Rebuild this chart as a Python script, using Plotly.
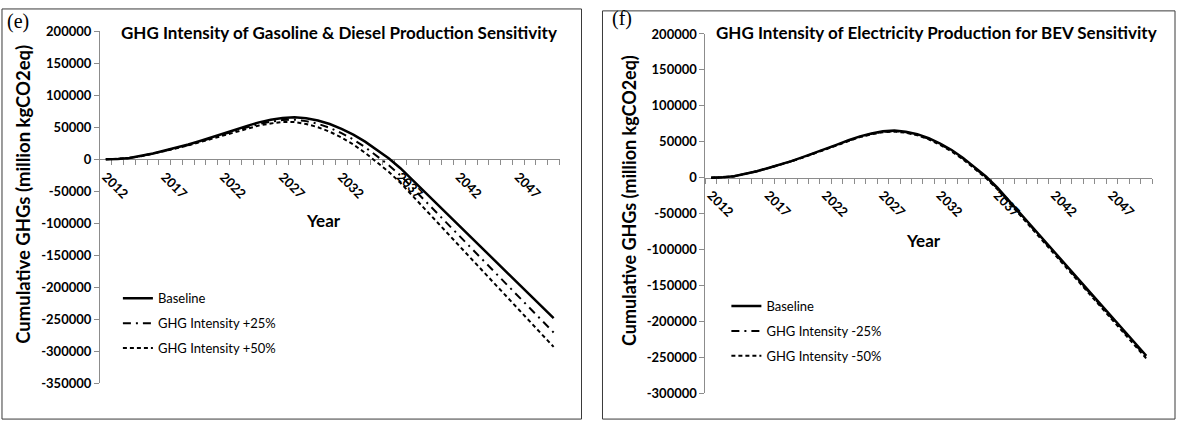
import plotly.graph_objects as go

# ---------------------------------------------------------------- data
years = list(range(2012, 2051))

baseline = [0, 400, 2000, 5000, 9000, 13500, 18000, 23000, 28500, 34000,
            40000, 46000, 52000, 57500, 61500, 64500, 65500, 64000, 60500, 55000,
            47500, 38500, 27500, 15000, 1500, -14000, -32000, -50000, -68000, -86000,
            -104000, -122000, -140000, -158000, -176000, -194000, -212000, -230000, -248000]

fuel_plus25 = [0, 375, 1925, 4850, 8750, 13100, 17500, 22300, 27600, 32850,
               38600, 44350, 50000, 55100, 58700, 61250, 61750, 59500, 55300, 49000,
               40700, 30800, 18800, 5300, -9000, -25400, -44200, -63100, -82000, -100800,
               -119700, -138600, -157500, -176300, -195200, -214000, -232800, -251600, -270500]

fuel_plus50 = [0, 350, 1850, 4700, 8500, 12750, 17000, 21600, 26700, 31700,
               37200, 42700, 48000, 52700, 55900, 58000, 58000, 55000, 50000, 43000,
               34000, 23000, 10000, -4500, -19500, -36800, -56500, -76200, -96000, -115700,
               -135500, -155200, -175000, -194700, -214400, -234000, -253700, -273300, -293000]

elec_minus25 = [0, 400, 2000, 4950, 8900, 13350, 17800, 22750, 28200, 33650,
                39600, 45550, 51500, 56950, 60900, 63850, 64800, 63250, 59700, 54150,
                46600, 37550, 26500, 13950, 400, -15150, -33200, -51250, -69300, -87350,
                -105400, -123450, -141500, -159550, -177600, -195700, -213800, -231900, -250000]

elec_minus50 = [0, 400, 2000, 4900, 8800, 13200, 17600, 22500, 27900, 33300,
                39200, 45100, 51000, 56400, 60300, 63200, 64100, 62500, 58900, 53300,
                45700, 36600, 25500, 12900, -700, -16300, -34400, -52500, -70600, -88700,
                -106800, -124900, -143000, -161100, -179200, -197400, -215600, -233800, -252000]

year_ticks = [2012, 2017, 2022, 2027, 2032, 2037, 2042, 2047]
year_labels = [str(y) for y in year_ticks]

yticks_e = [200000, 150000, 100000, 50000, 0, -50000, -100000, -150000,
            -200000, -250000, -300000, -350000]
yticks_f = [200000, 150000, 100000, 50000, 0, -50000, -100000, -150000,
            -200000, -250000, -300000]

# ---------------------------------------------------------------- layout helpers
W, H = 1177, 429
FONT = "Lato"
GREY = "#8c8c8c"


def px(x):
    return x / W


def py(y):
    return 1 - y / H


fig = go.Figure()

# panel (e): gasoline & diesel production
styles_e = [("Baseline", baseline, "solid", 2.5),
            ("GHG Intensity +25%", fuel_plus25, "8px,5px,2px,5px", 2),
            ("GHG Intensity +50%", fuel_plus50, "4px,3px", 2)]
for i, (name, vals, dash, w) in enumerate(styles_e):
    fig.add_trace(go.Scatter(x=years, y=vals, name=name, mode="lines",
                             line=dict(color="black", width=w, dash=dash),
                             xaxis="x", yaxis="y", legend="legend",
                             legendgroup=f"e{i}"))

# panel (f): electricity production for BEV
styles_f = [("Baseline", baseline, "solid", 2.5),
            ("GHG Intensity -25%", elec_minus25, "8px,5px,2px,5px", 2),
            ("GHG Intensity -50%", elec_minus50, "4px,3px", 2)]
for i, (name, vals, dash, w) in enumerate(styles_f):
    fig.add_trace(go.Scatter(x=years, y=vals, name=name, mode="lines",
                             line=dict(color="black", width=w, dash=dash),
                             xaxis="x2", yaxis="y2", legend="legend2",
                             legendgroup=f"f{i}"))

x_range = [years[0] - 0.5, years[-1] + 0.5]
boundaries = [y - 0.5 for y in years] + [years[-1] + 0.5]


def xaxis_cfg(dom, ydom, yrange):
    zero_pos = ydom[0] + (0 - yrange[0]) / (yrange[1] - yrange[0]) * (ydom[1] - ydom[0])
    return dict(domain=dom, range=x_range, anchor="free", position=zero_pos,
                showline=True, linecolor=GREY, linewidth=1, showgrid=False,
                zeroline=False, tickmode="array", tickvals=year_ticks,
                ticktext=year_labels, tickangle=45, ticks="", ticklabelstandoff=4,
                tickfont=dict(family=FONT, size=13, color="black", weight="bold"),
                minor=dict(tickvals=boundaries, ticks="outside", ticklen=5,
                           tickcolor=GREY, tickwidth=1),
                layer="below traces", fixedrange=True)


def yaxis_cfg(dom, yrange, ticks, anchor):
    return dict(domain=dom, range=yrange, anchor=anchor, showline=True,
                linecolor=GREY, linewidth=1, showgrid=False, zeroline=False,
                tickmode="array", tickvals=ticks, ticktext=[str(t) for t in ticks],
                ticks="outside", ticklen=5, tickcolor=GREY,
                tickfont=dict(family=FONT, size=13, color="black", weight="bold"),
                fixedrange=True)


ydom_e = [py(390), py(24)]
yr_e = [-350000, 200000]
ydom_f = [py(400), py(27)]
yr_f = [-300000, 200000]

fig.update_layout(
    width=W, height=H, margin=dict(l=0, r=0, t=0, b=0),
    paper_bgcolor="white", plot_bgcolor="white",
    xaxis=xaxis_cfg([px(99), px(559)], ydom_e, yr_e),
    yaxis=yaxis_cfg(ydom_e, yr_e, yticks_e, "x"),
    xaxis2=xaxis_cfg([px(705), px(1152)], ydom_f, yr_f),
    yaxis2=yaxis_cfg(ydom_f, yr_f, yticks_f, "x2"),
    legend=dict(x=px(117), y=py(286), xanchor="left", yanchor="top",
                bgcolor="rgba(0,0,0,0)", tracegroupgap=5,
                font=dict(family=FONT, size=13, color="black")),
    legend2=dict(x=px(726), y=py(294), xanchor="left", yanchor="top",
                 bgcolor="rgba(0,0,0,0)", tracegroupgap=5,
                 font=dict(family=FONT, size=13, color="black")),
    showlegend=True,
)

# panel frames
for x0, y0, x1, y1 in [(1, 1, 581, 427), (602, 3, 1175, 427)]:
    fig.add_shape(type="rect", xref="paper", yref="paper",
                  x0=px(x0), x1=px(x1), y0=py(y1), y1=py(y0),
                  line=dict(color="#3a3a3a", width=1), fillcolor="rgba(0,0,0,0)")

texts = [
    # (text, x, y, size, family, bold, angle, xanchor)
    ("(e)", 4, 14, 20, "Liberation Serif", False, 0, "left"),
    ("(f)", 610, 11, 20, "Liberation Serif", False, 0, "left"),
    ("GHG Intensity of Gasoline & Diesel Production Sensitivity", 338, 25, 17, FONT, True, 0, "center"),
    ("GHG Intensity of Electricity Production for BEV Sensitivity", 936, 25, 17, FONT, True, 0, "center"),
    ("Cumulative GHGs (million kgCO2eq)", 22, 193, 18.5, FONT, True, -90, "center"),
    ("Cumulative GHGs (million kgCO2eq)", 628, 200, 18, FONT, True, -90, "center"),
    ("Year", 323, 221, 17, FONT, True, 0, "center"),
    ("Year", 923, 241, 17, FONT, True, 0, "center"),
]
for text, x, y, size, fam, bold, ang, xa in texts:
    fig.add_annotation(text=text, xref="paper", yref="paper", x=px(x), y=py(y),
                       xanchor=xa, yanchor="middle", textangle=ang, showarrow=False,
                       font=dict(family=fam, size=size, color="black",
                                 weight="bold" if bold else "normal"))

fig.write_html("out.html")
